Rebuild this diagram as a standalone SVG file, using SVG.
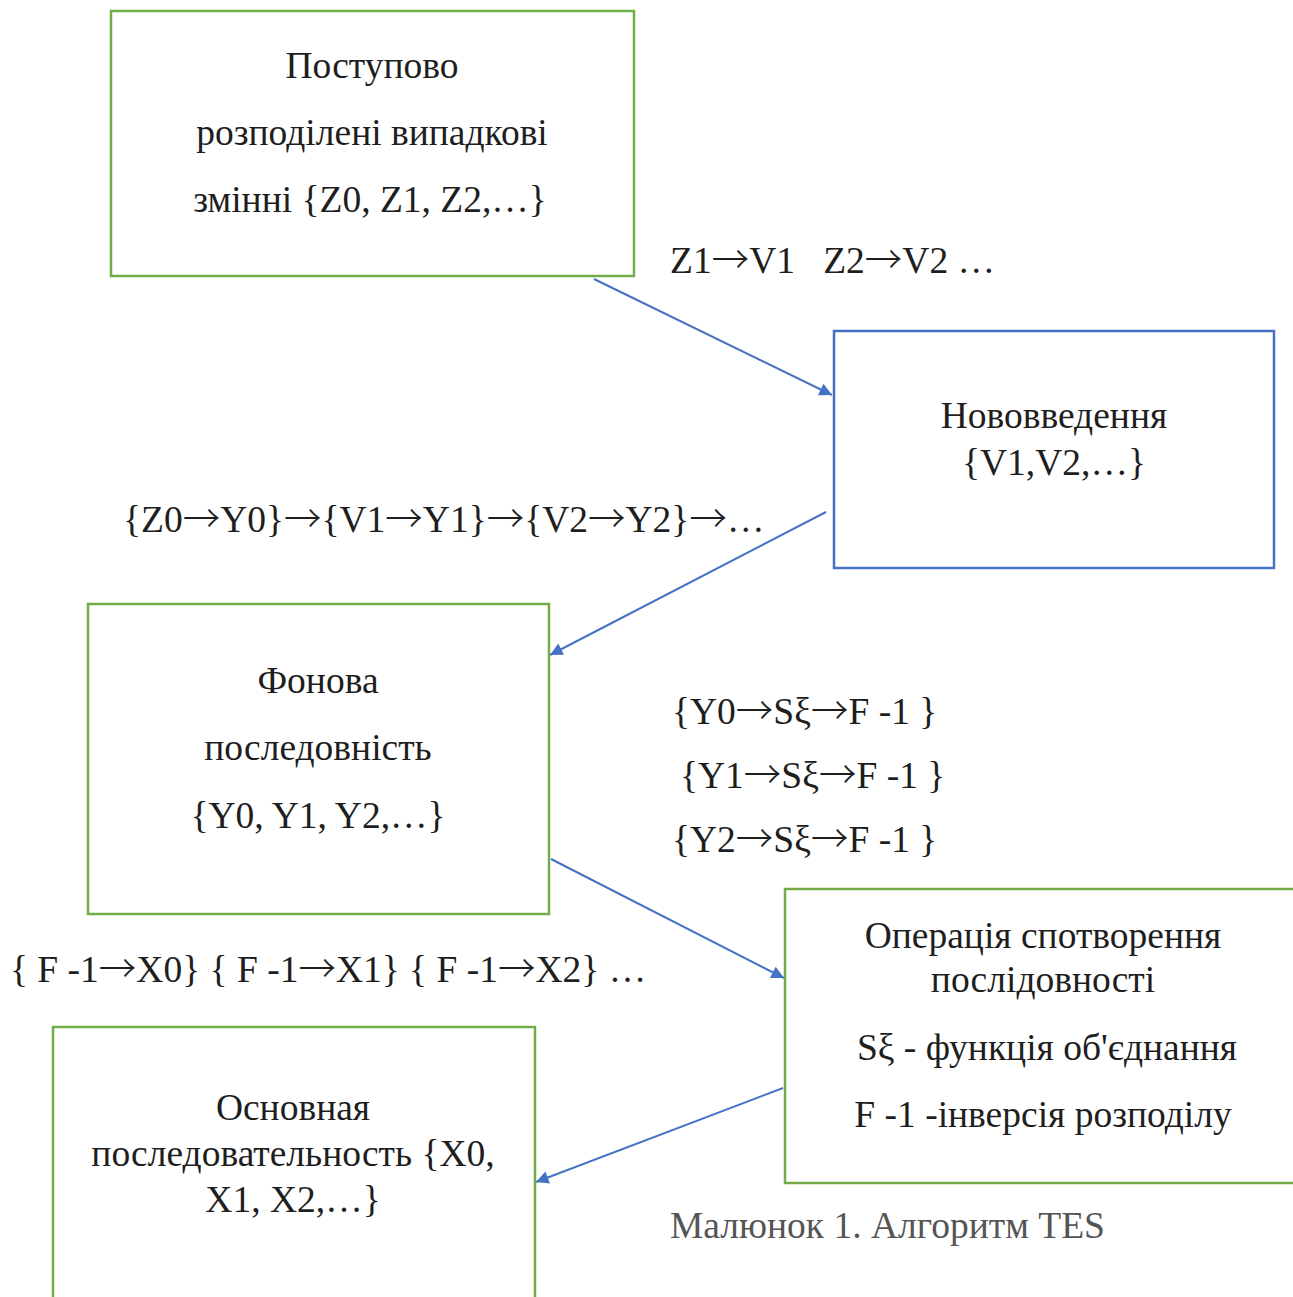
<svg xmlns="http://www.w3.org/2000/svg" width="1293" height="1297" viewBox="0 0 1293 1297">
<defs>
<style>
.t{font-family:"Liberation Serif","Times New Roman",serif;font-size:37.5px;fill:#1e1e1e;white-space:pre}
.a{font-family:"Noto Sans CJK SC","Noto Sans CJK JP",sans-serif;font-weight:300}
.m{text-anchor:middle}
.g{fill:#fff;stroke:#70ad47;stroke-width:2.5}
.b{fill:#fff;stroke:#4472c4;stroke-width:2.5}
.c{stroke:#4472c4;stroke-width:2;fill:none;marker-end:url(#ah)}
.cap{fill:#555}
</style>
<marker id="ah" viewBox="0 0 10 10" refX="10" refY="5" markerWidth="7" markerHeight="7" markerUnits="userSpaceOnUse" orient="auto" overflow="visible">
<path d="M0,0 L10,5 L0,10 z" fill="#4472c4" transform="scale(1.8) translate(-4.4,-2.2)"/>
</marker>
</defs>
<rect width="1293" height="1297" fill="#fff"/>
<g id="connectors">
<line class="c" x1="594" y1="279" x2="832" y2="395"/>
<line class="c" x1="826" y1="512" x2="550" y2="655"/>
<line class="c" x1="551" y1="859" x2="784" y2="978"/>
<line class="c" x1="783" y1="1088" x2="536" y2="1182"/>
</g>
<g id="node1">
<rect class="g" x="111" y="11" width="523" height="265"/>
<text class="t m" x="372" y="78">Поступово</text>
<text class="t m" x="372" y="145">розподілені випадкові</text>
<text class="t m" x="370" y="212">змінні {Z0, Z1, Z2,…}</text>
</g>
<g id="node2">
<rect class="b" x="834" y="331" width="440" height="237"/>
<text class="t m" x="1054" y="428">Нововведення</text>
<text class="t m" x="1054" y="475">{V1,V2,…}</text>
</g>
<g id="node3">
<rect class="g" x="88" y="604" width="461" height="310"/>
<text class="t m" x="318" y="693">Фонова</text>
<text class="t m" x="318" y="760">последовність</text>
<text class="t m" x="318" y="828">{Y0, Y1, Y2,…}</text>
</g>
<g id="node4">
<rect class="g" x="785" y="889" width="520" height="294"/>
<text class="t m" x="1043" y="948">Операція спотворення</text>
<text class="t m" x="1043" y="992">послідовності</text>
<text class="t m" x="1047" y="1060">Sξ - функція об'єднання</text>
<text class="t m" x="1043" y="1127">F -1 -інверсія розподілу</text>
</g>
<g id="node5">
<rect class="g" x="53" y="1027" width="482" height="290"/>
<text class="t m" x="293" y="1120">Основная</text>
<text class="t m" x="293" y="1166">последовательность {X0,</text>
<text class="t m" x="293" y="1212">X1, X2,…}</text>
</g>
<g id="labels">
<text class="t" x="670" y="273">Z1<tspan class="a">→</tspan>V1   Z2<tspan class="a">→</tspan>V2 …</text>
<text class="t" x="123" y="532">{Z0<tspan class="a">→</tspan>Y0}<tspan class="a">→</tspan>{V1<tspan class="a">→</tspan>Y1}<tspan class="a">→</tspan>{V2<tspan class="a">→</tspan>Y2}<tspan class="a">→</tspan>…</text>
<text class="t" x="672" y="724">{Y0<tspan class="a">→</tspan>Sξ<tspan class="a">→</tspan>F -1 }</text>
<text class="t" x="680" y="788">{Y1<tspan class="a">→</tspan>Sξ<tspan class="a">→</tspan>F -1 }</text>
<text class="t" x="672" y="852">{Y2<tspan class="a">→</tspan>Sξ<tspan class="a">→</tspan>F -1 }</text>
<text class="t" x="10" y="982">{ F -1<tspan class="a">→</tspan>X0} { F -1<tspan class="a">→</tspan>X1} { F -1<tspan class="a">→</tspan>X2} …</text>
<text class="t cap" x="670" y="1238">Малюнок 1. Алгоритм TES</text>
</g>
</svg>
